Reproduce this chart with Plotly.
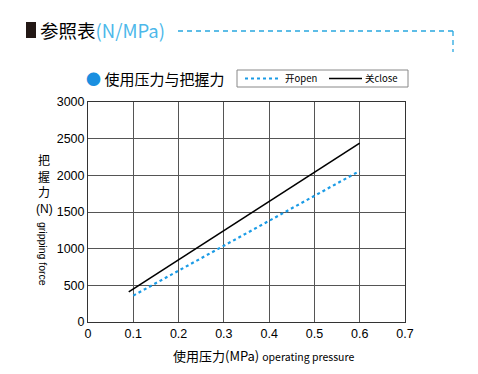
import plotly.graph_objects as go

# Data
open_x = [0.1, 0.6]
open_y = [360, 2060]
close_x = [0.09, 0.6]
close_y = [410, 2440]
x_ticks = [0, 0.1, 0.2, 0.3, 0.4, 0.5, 0.6, 0.7]
y_ticks = [0, 500, 1000, 1500, 2000, 2500, 3000]
y_title_chars = ["把", "握", "力", "(N)"]

FONT = "Liberation Sans, Noto Sans CJK SC, sans-serif"
CJK = "Noto Sans CJK SC, Liberation Sans, sans-serif"
BLUE = "#1a9be6"

OFF = 8  # page body margin
W, H = 478 - 2 * OFF, 374 - 2 * OFF
L, R, T, B = 88 - OFF, 405 - OFF, 102 - OFF, 322 - OFF


def px(x):
    return (x - OFF - L) / (R - L)


def py(y):
    return (B - (y - OFF)) / (B - T)


fig = go.Figure()
fig.add_trace(go.Scatter(x=open_x, y=open_y, mode="lines", name="开open",
                         line=dict(color=BLUE, width=2.2, dash="dot")))
fig.add_trace(go.Scatter(x=close_x, y=close_y, mode="lines", name="关close",
                         line=dict(color="black", width=1.6)))

fig.update_layout(
    width=W, height=H,
    margin=dict(l=L, r=W - R, t=T, b=H - B, autoexpand=False),
    paper_bgcolor="white", plot_bgcolor="white",
    font=dict(family=FONT, size=12, color="black"),
    showlegend=False,
    xaxis=dict(range=[0, 0.7], tickvals=x_ticks, ticktext=[f"{v:g}" for v in x_ticks],
               showgrid=True, gridcolor="#555", gridwidth=1, zeroline=False,
               showline=True, linecolor="#333", linewidth=1, mirror=True,
               ticks="", tickfont=dict(size=12.5), fixedrange=True, automargin=False),
    yaxis=dict(range=[0, 3000], tickvals=y_ticks,
               showgrid=True, gridcolor="#555", gridwidth=1, zeroline=False,
               showline=True, linecolor="#333", linewidth=1, mirror=True,
               ticks="", tickfont=dict(size=12.5), fixedrange=True, automargin=False),
)

# Header
fig.add_shape(type="rect", xref="paper", yref="paper",
              x0=px(26), x1=px(36), y0=py(38), y1=py(22),
              fillcolor="#231815", line=dict(width=0))
fig.add_annotation(xref="paper", yref="paper", x=px(38), y=py(30),
                   xanchor="left", yanchor="middle", showarrow=False,
                   text="参照表<span style='color:#4cb8ea'>(N/MPa)</span>",
                   font=dict(size=18.5, color="black", family=CJK))
fig.add_shape(type="line", xref="paper", yref="paper",
              x0=px(178), x1=px(453), y0=py(31), y1=py(31),
              line=dict(color="#29a8e0", width=1.3, dash="5px,4px"))
fig.add_shape(type="line", xref="paper", yref="paper",
              x0=px(453), x1=px(453), y0=py(31), y1=py(52),
              line=dict(color="#29a8e0", width=1.3, dash="5px,4px"))

# Subtitle
fig.add_annotation(xref="paper", yref="paper", x=px(84), y=py(78),
                   xanchor="left", yanchor="middle", showarrow=False,
                   text="<span style='color:#1a8fe0'>●</span> 使用压力与把握力",
                   font=dict(size=15, color="black", family=CJK))

# Manual legend
fig.add_shape(type="rect", xref="paper", yref="paper",
              x0=px(237), x1=px(408), y0=py(87), y1=py(70),
              line=dict(color="#888", width=1), fillcolor="white")
fig.add_shape(type="line", xref="paper", yref="paper",
              x0=px(245), x1=px(281), y0=py(78.5), y1=py(78.5),
              line=dict(color=BLUE, width=2.2, dash="dot"))
fig.add_annotation(xref="paper", yref="paper", x=px(283), y=py(78.5),
                   xanchor="left", yanchor="middle", showarrow=False,
                   text="开open", font=dict(size=9.5, color="black", family=CJK))
fig.add_shape(type="line", xref="paper", yref="paper",
              x0=px(329), x1=px(362), y0=py(78.5), y1=py(78.5),
              line=dict(color="black", width=1.6))
fig.add_annotation(xref="paper", yref="paper", x=px(363), y=py(78.5),
                   xanchor="left", yanchor="middle", showarrow=False,
                   text="关close", font=dict(size=9.5, color="black", family=CJK))

# Y title (stacked characters)
for i, ch in enumerate(y_title_chars):
    fig.add_annotation(xref="paper", yref="paper", x=px(44), y=py(161 + 16 * i),
                       xanchor="center", yanchor="middle", showarrow=False,
                       text=ch, font=dict(size=12, color="black", family=FONT))
fig.add_annotation(xref="paper", yref="paper", x=px(43), y=py(254),
                   xanchor="center", yanchor="middle", showarrow=False, textangle=90,
                   text="gripping force",
                   font=dict(size=10.5, color="black", family=FONT))

# X title
fig.add_annotation(xref="paper", yref="paper", x=px(263), y=py(355),
                   xanchor="center", yanchor="middle", showarrow=False,
                   text="使用压力(MPa) <span style='font-size:10.5px'>operating pressure</span>",
                   font=dict(size=13, color="black", family=CJK))

fig.write_html("out.html")
